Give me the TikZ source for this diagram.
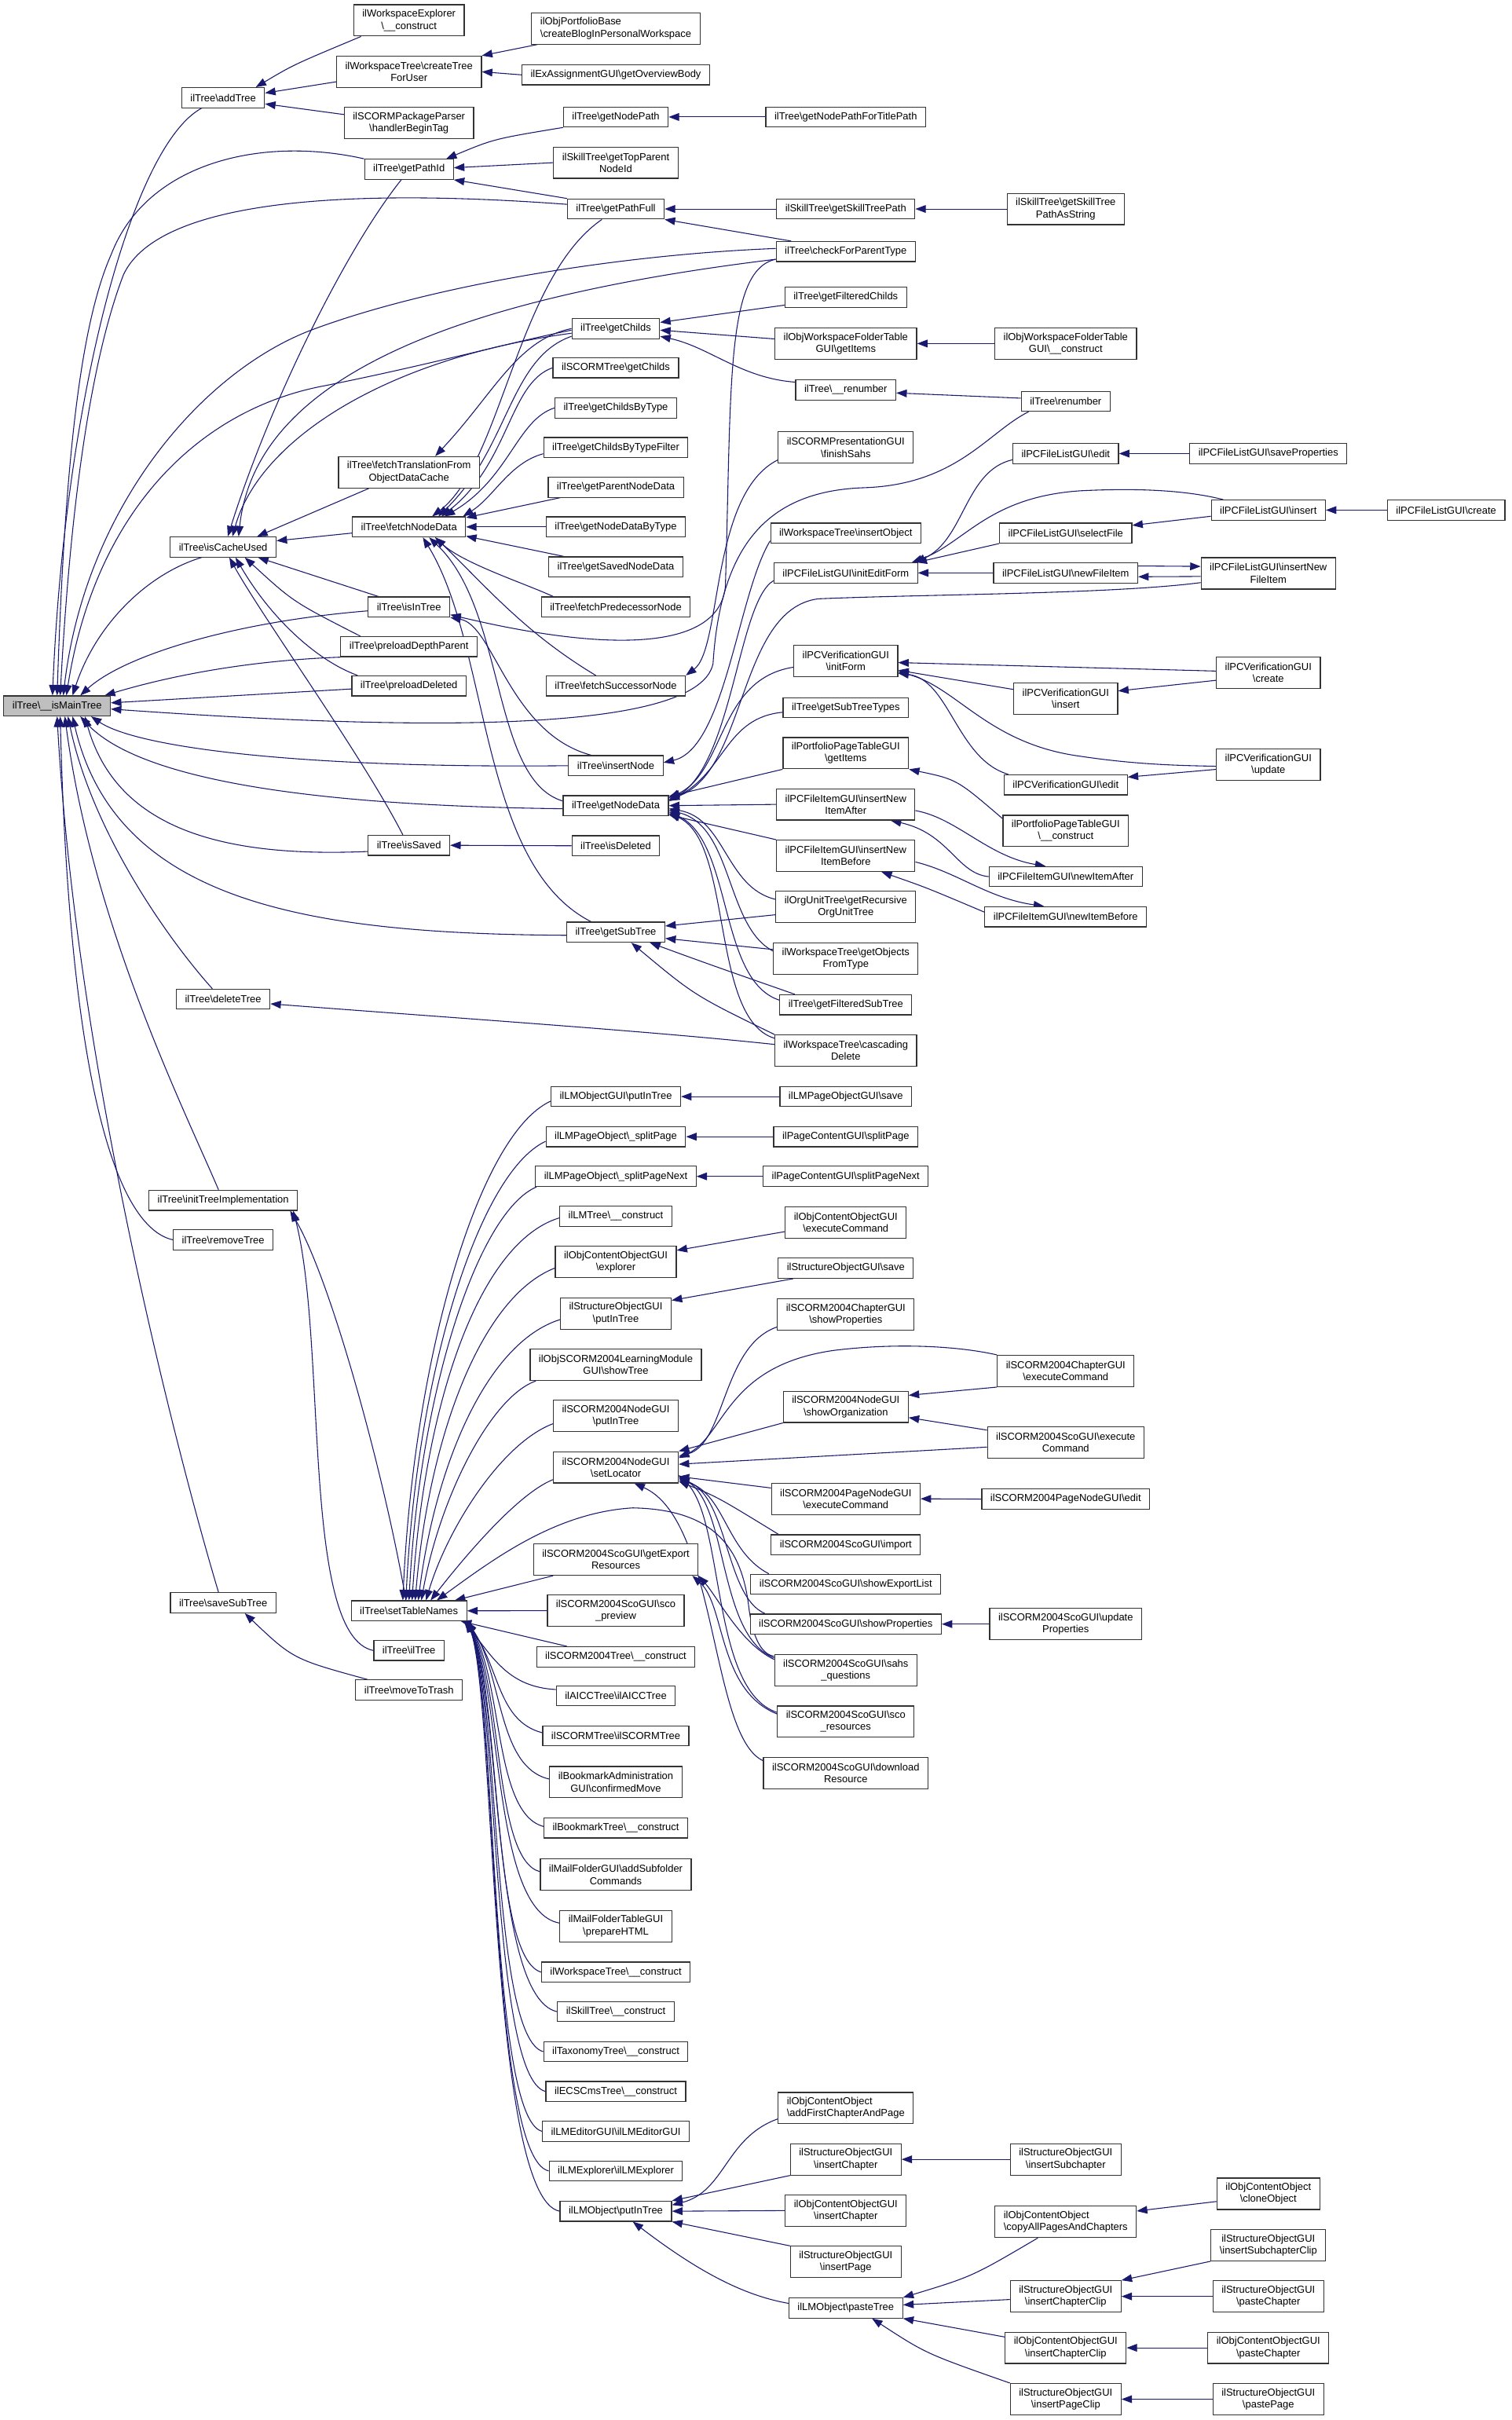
\documentclass[tikz,border=0pt]{standalone}
\usepackage{fontspec}
\setmainfont{Liberation Sans}
\usetikzlibrary{arrows.meta}
\pgfdeclarelayer{paper}
\pgfdeclarelayer{wires}
\pgfsetlayers{paper,wires,main}
\definecolor{dblue}{HTML}{191970}
\newcommand{\bsl}{\textbackslash}
\newcommand{\fnfont}{\fontsize{6.6}{7.8}\selectfont}
\begin{document}
\begin{tikzpicture}[
  x=1pt, y=-1pt,
  fn/.style={draw=black!80, line width=0.6pt, fill=white, font=\fnfont, align=center, inner xsep=5.6pt, inner ysep=2pt, minimum height=13pt},
  fn2/.style={fn, minimum height=20.3pt},
  fnl/.style={fn2, align=left},
  hit/.style={fn, fill=black!25},
  call/.style={draw=dblue, line width=0.55pt, arrows={Triangle[length=6.8pt,width=5pt]-}}
]
\begin{pgfonlayer}{paper}
\path[use as bounding box, fill=white] (0,0) rectangle (979.2,1568);
\end{pgfonlayer}

% the function itself
\node[hit] (main) at (37,457.4) {ilTree\bsl\_\_isMainTree};

% direct callers
\node[fn] (addTree) at (144.6,63.3) {ilTree\bsl addTree};
\node[fn] (isCacheUsed) at (144.6,354.4) {ilTree\bsl isCacheUsed};
\node[fn] (deleteTree) at (144.6,647.4) {ilTree\bsl deleteTree};
\node[fn] (initTreeImpl) at (144.6,777.7) {ilTree\bsl initTreeImplementation};
\node[fn] (removeTree) at (144.6,803.3) {ilTree\bsl removeTree};
\node[fn] (saveSubTree) at (144.6,1038.5) {ilTree\bsl saveSubTree};

\node[fn2] (wsExplCtor) at (265,13.2) {ilWorkspaceExplorer\\\bsl\_\_construct};
\node[fn2] (createTreeForUser) at (265,46.5) {ilWorkspaceTree\bsl createTree\\ForUser};
\node[fn2] (handlerBeginTag) at (265,79.7) {ilSCORMPackageParser\\\bsl handlerBeginTag};
\node[fn] (getPathId) at (265,109.7) {ilTree\bsl getPathId};
\node[fn2] (fetchTransl) at (265,306) {ilTree\bsl fetchTranslationFrom\\ObjectDataCache};
\node[fn] (fetchNodeData) at (265,341.4) {ilTree\bsl fetchNodeData};
\node[fn] (isInTree) at (265,393.3) {ilTree\bsl isInTree};
\node[fn] (preloadDepthParent) at (265,419) {ilTree\bsl preloadDepthParent};
\node[fn] (preloadDeleted) at (265,444.4) {ilTree\bsl preloadDeleted};
\node[fn] (isSaved) at (265,547.7) {ilTree\bsl isSaved};
\node[fn] (setTableNames) at (265,1043.7) {ilTree\bsl setTableNames};
\node[fn] (ilTreeCtor) at (265,1069.4) {ilTree\bsl ilTree};
\node[fn] (moveToTrash) at (265,1095) {ilTree\bsl moveToTrash};

\node[fnl] (createBlog) at (399,18.4) {ilObjPortfolioBase\\\bsl createBlogInPersonalWorkspace};
\node[fn] (getOverviewBody) at (399,48.5) {ilExAssignmentGUI\bsl getOverviewBody};
\node[fn] (getNodePath) at (399,75.8) {ilTree\bsl getNodePath};
\node[fn2] (getTopParent) at (399,105.4) {ilSkillTree\bsl getTopParent\\NodeId};
\node[fn] (getPathFull) at (399,135.4) {ilTree\bsl getPathFull};
\node[fn] (getChilds) at (399,212.9) {ilTree\bsl getChilds};
\node[fn] (scormGetChilds) at (399,238.3) {ilSCORMTree\bsl getChilds};
\node[fn] (getChildsByType) at (399,264.3) {ilTree\bsl getChildsByType};
\node[fn] (getChildsByTypeFilter) at (399,290) {ilTree\bsl getChildsByTypeFilter};
\node[fn] (getParentNodeData) at (399,315.7) {ilTree\bsl getParentNodeData};
\node[fn] (getNodeDataByType) at (399,341.4) {ilTree\bsl getNodeDataByType};
\node[fn] (getSavedNodeData) at (399,367.3) {ilTree\bsl getSavedNodeData};
\node[fn] (fetchPredecessor) at (399,393.3) {ilTree\bsl fetchPredecessorNode};
\node[fn] (fetchSuccessor) at (399,444.4) {ilTree\bsl fetchSuccessorNode};
\node[fn] (insertNode) at (399,496.1) {ilTree\bsl insertNode};
\node[fn] (getNodeData) at (399,522) {ilTree\bsl getNodeData};
\node[fn] (isDeleted) at (399,548) {ilTree\bsl isDeleted};
\node[fn] (getSubTree) at (399,604) {ilTree\bsl getSubTree};
\node[fn] (lmogPutInTree) at (399,710.5) {ilLMObjectGUI\bsl putInTree};
\node[fn] (splitPage) at (399,736.5) {ilLMPageObject\bsl\_splitPage};
\node[fn] (splitPageNext) at (399,762.2) {ilLMPageObject\bsl\_splitPageNext};
\node[fn] (lmTreeCtor) at (399,788.1) {ilLMTree\bsl\_\_construct};
\node[fn2] (cogExplorer) at (399,817.6) {ilObjContentObjectGUI\\\bsl explorer};
\node[fn2] (sogPutInTree) at (399,851) {ilStructureObjectGUI\\\bsl putInTree};
\node[fn2] (showTree) at (399,884.3) {ilObjSCORM2004LearningModule\\GUI\bsl showTree};
\node[fn2] (nodePutInTree) at (399,917.5) {ilSCORM2004NodeGUI\\\bsl putInTree};
\node[fn2] (setLocator) at (399,950.7) {ilSCORM2004NodeGUI\\\bsl setLocator};
\node[fn2] (getExportRes) at (399,1010.5) {ilSCORM2004ScoGUI\bsl getExport\\Resources};
\node[fn2] (scoPreview) at (399,1043.6) {ilSCORM2004ScoGUI\bsl sco\\\_preview};
\node[fn] (s2004TreeCtor) at (399,1073.5) {ilSCORM2004Tree\bsl\_\_construct};
\node[fn] (aiccTree) at (399,1098.7) {ilAICCTree\bsl ilAICCTree};
\node[fn] (scormTree) at (399,1124.7) {ilSCORMTree\bsl ilSCORMTree};
\node[fn2] (confirmedMove) at (399,1154.7) {ilBookmarkAdministration\\GUI\bsl confirmedMove};
\node[fn] (bookmarkTreeCtor) at (399,1184.4) {ilBookmarkTree\bsl\_\_construct};
\node[fn2] (addSubfolderCmds) at (399,1214.7) {ilMailFolderGUI\bsl addSubfolder\\Commands};
\node[fn2] (prepareHTML) at (399,1248) {ilMailFolderTableGUI\\\bsl prepareHTML};
\node[fn] (wsTreeCtor) at (399,1277.8) {ilWorkspaceTree\bsl\_\_construct};
\node[fn] (skillTreeCtor) at (399,1303.4) {ilSkillTree\bsl\_\_construct};
\node[fn] (taxTreeCtor) at (399,1329.3) {ilTaxonomyTree\bsl\_\_construct};
\node[fn] (ecsTreeCtor) at (399,1355.1) {ilECSCmsTree\bsl\_\_construct};
\node[fn] (lmEditor) at (399,1380.9) {ilLMEditorGUI\bsl ilLMEditorGUI};
\node[fn] (lmExplorer) at (399,1406.6) {ilLMExplorer\bsl ilLMExplorer};
\node[fn] (lmoPutInTree) at (399,1432.7) {ilLMObject\bsl putInTree};

\node[fn] (getNodePathTitle) at (548,75.8) {ilTree\bsl getNodePathForTitlePath};
\node[fn] (getSkillTreePath) at (548,135.4) {ilSkillTree\bsl getSkillTreePath};
\node[fn] (checkParentType) at (548,163) {ilTree\bsl checkForParentType};
\node[fn] (getFilteredChilds) at (548,192.7) {ilTree\bsl getFilteredChilds};
\node[fn2] (wsftGetItems) at (548,222.6) {ilObjWorkspaceFolderTable\\GUI\bsl getItems};
\node[fn] (renumberInt) at (548,252.6) {ilTree\bsl\_\_renumber};
\node[fn2] (finishSahs) at (548,290) {ilSCORMPresentationGUI\\\bsl finishSahs};
\node[fn] (insertObject) at (548,345.4) {ilWorkspaceTree\bsl insertObject};
\node[fn] (initEditForm) at (548,371.2) {ilPCFileListGUI\bsl initEditForm};
\node[fn2] (vInitForm) at (548,428.3) {ilPCVerificationGUI\\\bsl initForm};
\node[fn] (getSubTreeTypes) at (548,458.5) {ilTree\bsl getSubTreeTypes};
\node[fn2] (ppGetItems) at (548,488) {ilPortfolioPageTableGUI\\\bsl getItems};
\node[fn2] (insNewItemAfter) at (548,521.2) {ilPCFileItemGUI\bsl insertNew\\ItemAfter};
\node[fn2] (insNewItemBefore) at (548,554.5) {ilPCFileItemGUI\bsl insertNew\\ItemBefore};
\node[fn2] (orgUnitTree) at (548,587.7) {ilOrgUnitTree\bsl getRecursive\\OrgUnitTree};
\node[fn2] (getObjectsFromType) at (548,621.2) {ilWorkspaceTree\bsl getObjects\\FromType};
\node[fn] (getFilteredSubTree) at (548,651) {ilTree\bsl getFilteredSubTree};
\node[fn2] (cascadingDelete) at (548,680.7) {ilWorkspaceTree\bsl cascading\\Delete};
\node[fn] (lmpogSave) at (548,710.5) {ilLMPageObjectGUI\bsl save};
\node[fn] (pcgSplitPage) at (548,736.5) {ilPageContentGUI\bsl splitPage};
\node[fn] (pcgSplitPageNext) at (548,762.2) {ilPageContentGUI\bsl splitPageNext};
\node[fn2] (cogExecCmd) at (548,792) {ilObjContentObjectGUI\\\bsl executeCommand};
\node[fn] (sogSave) at (548,821.7) {ilStructureObjectGUI\bsl save};
\node[fn2] (chapShowProps) at (548,851.8) {ilSCORM2004ChapterGUI\\\bsl showProperties};
\node[fn2] (showOrganization) at (548,911.5) {ilSCORM2004NodeGUI\\\bsl showOrganization};
\node[fn2] (pageExecCmd) at (548,971.1) {ilSCORM2004PageNodeGUI\\\bsl executeCommand};
\node[fn] (scoImport) at (548,1000.9) {ilSCORM2004ScoGUI\bsl import};
\node[fn] (showExportList) at (548,1026.5) {ilSCORM2004ScoGUI\bsl showExportList};
\node[fn] (scoShowProps) at (548,1052.3) {ilSCORM2004ScoGUI\bsl showProperties};
\node[fn2] (sahsQuestions) at (548,1082.2) {ilSCORM2004ScoGUI\bsl sahs\\\_questions};
\node[fn2] (scoResources) at (548,1115.5) {ilSCORM2004ScoGUI\bsl sco\\\_resources};
\node[fn2] (downloadRes) at (548,1148.8) {ilSCORM2004ScoGUI\bsl download\\Resource};
\node[fnl] (addFirstChapter) at (548,1365.9) {ilObjContentObject\\\bsl addFirstChapterAndPage};
\node[fn2] (sogInsChapter) at (548,1399.1) {ilStructureObjectGUI\\\bsl insertChapter};
\node[fn2] (cogInsChapter) at (548,1432.3) {ilObjContentObjectGUI\\\bsl insertChapter};
\node[fn2] (sogInsPage) at (548,1465.6) {ilStructureObjectGUI\\\bsl insertPage};
\node[fn] (pasteTree) at (548,1495.4) {ilLMObject\bsl pasteTree};

\node[fn2] (skillTreePathStr) at (690.5,135.4) {ilSkillTree\bsl getSkillTree\\PathAsString};
\node[fn2] (wsftCtor) at (690.5,222.6) {ilObjWorkspaceFolderTable\\GUI\bsl\_\_construct};
\node[fn] (renumber) at (690.5,260) {ilTree\bsl renumber};
\node[fn] (flEdit) at (690.5,293.9) {ilPCFileListGUI\bsl edit};
\node[fn] (selectFile) at (690.5,345.4) {ilPCFileListGUI\bsl selectFile};
\node[fn] (newFileItem) at (690.5,371.2) {ilPCFileListGUI\bsl newFileItem};
\node[fn2] (vInsert) at (690.5,452.7) {ilPCVerificationGUI\\\bsl insert};
\node[fn] (vEdit) at (690.5,508.5) {ilPCVerificationGUI\bsl edit};
\node[fn2] (ppCtor) at (690.5,538.4) {ilPortfolioPageTableGUI\\\bsl\_\_construct};
\node[fn] (newItemAfter) at (690.5,568) {ilPCFileItemGUI\bsl newItemAfter};
\node[fn] (newItemBefore) at (690.5,594) {ilPCFileItemGUI\bsl newItemBefore};
\node[fn2] (chapExecCmd) at (690.5,888.3) {ilSCORM2004ChapterGUI\\\bsl executeCommand};
\node[fn2] (scoExecCmd) at (690.5,934.6) {ilSCORM2004ScoGUI\bsl execute\\Command};
\node[fn] (pageEdit) at (690.5,971.3) {ilSCORM2004PageNodeGUI\bsl edit};
\node[fn2] (updateProps) at (690.5,1052.3) {ilSCORM2004ScoGUI\bsl update\\Properties};
\node[fn2] (insSubchapter) at (690.5,1399.1) {ilStructureObjectGUI\\\bsl insertSubchapter};
\node[fnl] (copyAll) at (690.5,1439.6) {ilObjContentObject\\\bsl copyAllPagesAndChapters};
\node[fn2] (sogInsChapterClip) at (690.5,1487.9) {ilStructureObjectGUI\\\bsl insertChapterClip};
\node[fn2] (cogInsChapterClip) at (690.5,1521.2) {ilObjContentObjectGUI\\\bsl insertChapterClip};
\node[fn2] (insPageClip) at (690.5,1554.5) {ilStructureObjectGUI\\\bsl insertPageClip};

\node[fn] (saveProps) at (821.8,293.9) {ilPCFileListGUI\bsl saveProperties};
\node[fn] (flInsert) at (821.8,330.5) {ilPCFileListGUI\bsl insert};
\node[fn2] (insNewFileItem) at (821.8,371.5) {ilPCFileListGUI\bsl insertNew\\FileItem};
\node[fn2] (vCreate) at (821.8,435.8) {ilPCVerificationGUI\\\bsl create};
\node[fn2] (vUpdate) at (821.8,495.5) {ilPCVerificationGUI\\\bsl update};
\node[fn2] (cloneObject) at (821.8,1421.4) {ilObjContentObject\\\bsl cloneObject};
\node[fn2] (insSubchapterClip) at (821.8,1454.7) {ilStructureObjectGUI\\\bsl insertSubchapterClip};
\node[fn2] (sogPasteChapter) at (821.8,1487.9) {ilStructureObjectGUI\\\bsl pasteChapter};
\node[fn2] (cogPasteChapter) at (821.8,1521.2) {ilObjContentObjectGUI\\\bsl pasteChapter};
\node[fn2] (pastePage) at (821.8,1554.5) {ilStructureObjectGUI\\\bsl pastePage};

\node[fn] (flCreate) at (937,330.5) {ilPCFileListGUI\bsl create};

\begin{pgfonlayer}{wires}
% calls into the main node
\draw[call] ([xshift=-3pt]main.north) .. controls (42,260) and (85,95) .. ([xshift=-14pt]addTree.south);
\draw[call] (main.north) .. controls (42,300) and (52,210) .. (72,165) .. controls (95,105) and (170,88) .. (getPathId.north west);
\draw[call] ([xshift=2pt]main.north) .. controls (46,320) and (60,230) .. (80,178) .. controls (100,135) and (200,120) .. ([yshift=3pt]getPathFull.west);
\draw[call] ([xshift=4pt]main.north) .. controls (55,330) and (130,240) .. (204,213) .. controls (280,185) and (400,165) .. ([yshift=2pt]checkParentType.west);
\draw[call] ([xshift=6pt]main.north) .. controls (62,330) and (130,265) .. (210,250) .. controls (280,236) and (330,222) .. ([yshift=-1pt]getChilds.west);
\draw[call] ([xshift=10pt]main.north) .. controls (62,405) and (95,372) .. ([xshift=-14pt]isCacheUsed.south);
\draw[call] ([xshift=15pt]main.north) .. controls (80,425) and (150,403) .. ([yshift=-2.5pt]isInTree.west);
\draw[call] ([xshift=-4pt]main.north east) .. controls (110,438) and (160,428) .. (preloadDepthParent.south west);
\draw[call] ([yshift=2pt]main.east) -- ([yshift=-2pt]preloadDeleted.west);
\draw[call] ([yshift=-2pt]main.east) .. controls (250,472) and (452,478) .. (462,430) .. controls (467,350) and (500,318) .. (560,316) .. controls (620,314) and (640,280) .. ([xshift=5pt]renumber.south west);
\draw[call] ([xshift=18pt]main.south) .. controls (75,535) and (140,556) .. ([yshift=-4pt]isSaved.west);
\draw[call] ([xshift=22pt]main.south) .. controls (90,485) and (200,498) .. (insertNode.west);
\draw[call] ([xshift=15pt]main.south) .. controls (90,505) and (200,522) .. ([yshift=-2pt]getNodeData.west);
\draw[call] ([xshift=10pt]main.south) .. controls (75,585) and (200,605) .. ([yshift=-2pt]getSubTree.west);
\draw[call] ([xshift=7pt]main.south) .. controls (60,540) and (110,610) .. ([xshift=-7pt]deleteTree.north);
\draw[call] ([xshift=5pt]main.south) .. controls (60,600) and (120,720) .. ([xshift=-3pt]initTreeImpl.north);
\draw[call] ([xshift=2pt]main.south) .. controls (45,700) and (75,795) .. (removeTree.west);
\draw[call] (main.south) .. controls (50,700) and (120,960) .. ([xshift=-3pt]saveSubTree.north);

% second rank
\draw[call] ([xshift=-6pt]addTree.north east) .. controls (190,42) .. ([xshift=5pt]wsExplCtor.south west);
\draw[call] ([yshift=3pt]addTree.east) -- ([yshift=-6.5pt]createTreeForUser.west);
\draw[call] ([yshift=-4pt]addTree.east) -- ([yshift=5.5pt]handlerBeginTag.west);
\draw[call] (createTreeForUser.north east) -- ([xshift=4pt]createBlog.south west);
\draw[call] (createTreeForUser.east) -- (getOverviewBody.west);
\draw[call] ([xshift=3pt]isCacheUsed.north) .. controls (175,260) and (225,160) .. ([xshift=-5pt]getPathId.south);
\draw[call] ([xshift=10pt]isCacheUsed.north) .. controls (165,250) and (280,195) .. ([yshift=-5pt]checkParentType.west);
\draw[call] ([xshift=6pt]isCacheUsed.north) .. controls (168,285) and (250,232) .. ([yshift=-3pt]getChilds.west);
\draw[call] ([xshift=22pt]isCacheUsed.north) -- ([xshift=20pt]fetchTransl.south west);
\draw[call] ([yshift=4pt]isCacheUsed.east) -- ([yshift=-4pt]fetchNodeData.west);
\draw[call] ([xshift=-12pt]isCacheUsed.south east) -- ([xshift=7pt]isInTree.north west);
\draw[call] ([xshift=14pt]isCacheUsed.south) .. controls (190,390) .. ([xshift=13pt]preloadDepthParent.north west);
\draw[call] ([xshift=8pt]isCacheUsed.south) .. controls (175,400) and (205,428) .. ([xshift=4pt]preloadDeleted.north west);
\draw[call] ([xshift=4pt]isCacheUsed.south) .. controls (170,400) and (235,490) .. ([xshift=-4pt]isSaved.north);
\draw[call] ([xshift=-5pt]initTreeImpl.south east) .. controls (215,830) and (250,960) .. ([xshift=-2pt]setTableNames.north);
\draw[call] ([xshift=-3pt]initTreeImpl.south east) .. controls (212,870) and (195,1060) .. (ilTreeCtor.west);
\draw[call] ([xshift=14pt]saveSubTree.south) .. controls (190,1075) .. ([xshift=8pt]moveToTrash.north west);
\draw[call] (isSaved.east) -- (isDeleted.west);

% third rank
\draw[call] ([xshift=-5pt]getPathId.north east) .. controls (320,90) .. (getNodePath.south west);
\draw[call] ([yshift=1pt]getPathId.east) -- (getTopParent.west);
\draw[call] (getPathId.south east) -- (getPathFull.north west);
\draw[call] ([xshift=15pt]fetchNodeData.north) .. controls (325,300) and (335,180) .. ([xshift=-9pt]getPathFull.south);
\draw[call] ([xshift=17pt]fetchTransl.north) .. controls (320,255) and (335,220) .. (getChilds.west);
\draw[call] ([xshift=19pt]fetchNodeData.north) .. controls (330,290) and (330,232) .. ([yshift=-5pt]getChilds.west);
\draw[call] ([xshift=21pt]fetchNodeData.north) .. controls (330,300) and (330,248) .. (scormGetChilds.west);
\draw[call] ([xshift=23pt]fetchNodeData.north) .. controls (330,310) and (335,272) .. (getChildsByType.west);
\draw[call] ([xshift=-2pt]fetchNodeData.north east) .. controls (320,322) and (330,300) .. ([yshift=-4pt]getChildsByTypeFilter.west);
\draw[call] ([yshift=6pt]fetchNodeData.east) -- ([xshift=8pt]getParentNodeData.south west);
\draw[call] (fetchNodeData.east) -- (getNodeDataByType.west);
\draw[call] ([yshift=-6pt]fetchNodeData.east) -- ([xshift=10pt]getSavedNodeData.north west);
\draw[call] ([xshift=-20pt]fetchNodeData.south east) .. controls (300,365) and (340,378) .. ([xshift=8pt]fetchPredecessor.north west);
\draw[call] ([xshift=17pt]fetchNodeData.south) .. controls (315,380) and (340,410) .. ([xshift=-13pt]fetchSuccessor.north);
\draw[call] ([xshift=13pt]fetchNodeData.south) .. controls (328,395) and (318,505) .. ([yshift=3pt]getNodeData.west);
\draw[call] ([xshift=9pt]fetchNodeData.south) .. controls (318,420) and (310,560) .. ([xshift=-16pt]getSubTree.north);
\draw[call] (isInTree.south east) .. controls (320,405) and (330,475) .. ([xshift=-16pt]insertNode.north);
\draw[call] ([yshift=-5pt]isInTree.east) .. controls (400,424) and (466,420) .. (470,380) .. controls (474,250) and (470,175) .. ([yshift=-5pt]checkParentType.west);

% fourth rank and beyond, upper half
\draw[call] (getNodePath.east) -- (getNodePathTitle.west);
\draw[call] (getPathFull.east) -- (getSkillTreePath.west);
\draw[call] (getPathFull.south east) -- ([xshift=10pt]checkParentType.north west);
\draw[call] (getSkillTreePath.east) -- (skillTreePathStr.west);
\draw[call] ([yshift=4pt]getChilds.east) -- ([yshift=-5pt]getFilteredChilds.west);
\draw[call] ([yshift=-1pt]getChilds.east) -- ([yshift=3pt]wsftGetItems.west);
\draw[call] ([yshift=-5pt]getChilds.east) .. controls (460,225) and (480,245) .. ([yshift=5pt]renumberInt.west);
\draw[call] (wsftGetItems.east) -- (wsftCtor.west);
\draw[call] ([yshift=-2pt]renumberInt.east) -- ([yshift=2pt]renumber.west);
\draw[call] (fetchSuccessor.north east) .. controls (468,420) and (460,320) .. ([yshift=-8pt]finishSahs.west);
\draw[call] ([yshift=2pt]insertNode.east) .. controls (470,485) and (478,385) .. ([yshift=-5pt]insertObject.west);
\draw[call] ([yshift=3pt]getNodeData.east) .. controls (475,495) and (478,390) .. ([yshift=-5pt]initEditForm.west);
\draw[call] ([yshift=4pt]getNodeData.east) .. controls (484,500) and (478,395) .. (530,388) .. controls (600,385) and (720,385) .. ([yshift=-6pt]insNewFileItem.west);
\draw[call] ([yshift=5pt]getNodeData.east) .. controls (470,500) and (465,440) .. ([yshift=-4pt]vInitForm.west);
\draw[call] ([yshift=3pt]getNodeData.east) .. controls (470,500) and (470,465) .. ([yshift=-3pt]getSubTreeTypes.west);
\draw[call] ([yshift=6pt]getNodeData.east) -- (ppGetItems.south west);
\draw[call] (getNodeData.east) -- (insNewItemAfter.west);
\draw[call] ([yshift=-6pt]getNodeData.east) -- (insNewItemBefore.north west);
\draw[call] ([yshift=-2pt]getNodeData.east) .. controls (470,530) and (470,575) .. ([yshift=5pt]orgUnitTree.west);
\draw[call] ([yshift=-3pt]getNodeData.east) .. controls (475,535) and (470,600) .. ([yshift=5pt]getObjectsFromType.west);
\draw[call] ([yshift=-4pt]getNodeData.east) .. controls (475,545) and (465,635) .. ([yshift=3pt]getFilteredSubTree.west);
\draw[call] ([yshift=-5pt]getNodeData.east) .. controls (475,545) and (460,660) .. ([yshift=8pt]cascadingDelete.west);
\draw[call] ([yshift=4pt]getSubTree.east) -- ([yshift=-5pt]orgUnitTree.west);
\draw[call] ([yshift=-4pt]getSubTree.east) -- ([yshift=6pt]getObjectsFromType.west);
\draw[call] ([xshift=-10pt]getSubTree.south east) .. controls (460,625) .. ([xshift=10pt]getFilteredSubTree.north west);
\draw[call] ([xshift=10pt]getSubTree.south) .. controls (450,645) .. (cascadingDelete.north west);
\draw[call] ([yshift=-3pt]deleteTree.east) .. controls (300,660) and (420,668) .. ([yshift=4pt]cascadingDelete.west);

\draw[call] ([xshift=-2pt]initEditForm.north east) .. controls (625,350) and (625,305) .. ([yshift=-4pt]flEdit.west);
\draw[call] (flEdit.east) -- (saveProps.west);
\draw[call] ([xshift=-4pt]initEditForm.north east) .. controls (625,352) and (640,322) .. (700,318) .. controls (740,316) and (770,318) .. ([xshift=8pt]flInsert.north west);
\draw[call] ([yshift=5pt]selectFile.east) -- ([yshift=-4pt]flInsert.west);
\draw[call] (flInsert.east) -- (flCreate.west);
\draw[call] ([xshift=-1pt]initEditForm.north east) -- (selectFile.south west);
\draw[call] (initEditForm.east) -- (newFileItem.west);
\draw[call] ([yshift=4.5pt]insNewFileItem.west) -- ([yshift=4.5pt]newFileItem.east);
\draw[call] ([yshift=-2.5pt]newFileItem.east) -- ([yshift=-2pt]insNewFileItem.west);

\draw[call] ([yshift=-1pt]vInitForm.east) -- ([yshift=1pt]vCreate.west);
\draw[call] ([yshift=5pt]vInsert.east) -- ([yshift=-5pt]vCreate.west);
\draw[call] ([yshift=-6pt]vInitForm.east) -- ([yshift=6pt]vInsert.west);
\draw[call] ([yshift=-7pt]vInitForm.east) .. controls (620,445) and (640,482) .. (700,490) .. controls (740,496) and (770,496) .. ([yshift=-1pt]vUpdate.west);
\draw[call] ([yshift=5pt]vEdit.east) -- ([yshift=-3pt]vUpdate.west);
\draw[call] ([yshift=-8pt]vInitForm.east) .. controls (615,440) and (620,492) .. ([xshift=3pt]vEdit.north west);
\draw[call] (ppGetItems.south east) .. controls (620,505) .. ([yshift=8pt]ppCtor.west);
\draw[call] ([xshift=-13pt]newItemAfter.north) .. controls (640,555) and (620,530) .. ([yshift=-4pt]insNewItemAfter.east);
\draw[call] ([xshift=-16pt]insNewItemAfter.south east) .. controls (615,540) and (620,566) .. (newItemAfter.west);
\draw[call] ([xshift=-14pt]newItemBefore.north) .. controls (640,582) and (620,565) .. ([yshift=-4pt]insNewItemBefore.east);
\draw[call] ([xshift=-22pt]insNewItemBefore.south east) .. controls (600,575) .. ([yshift=3pt]newItemBefore.west);

% callers of setTableNames
\draw[call] ([xshift=-4pt]setTableNames.north) .. controls (268,880) and (310,735) .. ([yshift=-3pt]lmogPutInTree.west);
\draw[call] ([xshift=-2pt]setTableNames.north) .. controls (270,890) and (310,760) .. ([yshift=-3pt]splitPage.west);
\draw[call] (setTableNames.north) .. controls (272,900) and (310,785) .. ([xshift=1pt]splitPageNext.south west);
\draw[call] ([xshift=2pt]setTableNames.north) .. controls (275,910) and (310,805) .. ([yshift=-1pt]lmTreeCtor.west);
\draw[call] ([xshift=4pt]setTableNames.north) .. controls (278,930) and (312,840) .. ([yshift=-4pt]cogExplorer.west);
\draw[call] ([xshift=6pt]setTableNames.north) .. controls (282,950) and (315,870) .. ([yshift=-4pt]sogPutInTree.west);
\draw[call] ([xshift=8pt]setTableNames.north) .. controls (285,970) and (318,905) .. ([xshift=4pt]showTree.south west);
\draw[call] ([xshift=11pt]setTableNames.north) .. controls (290,990) and (325,935) .. ([yshift=-5pt]nodePutInTree.west);
\draw[call] ([xshift=14pt]setTableNames.north) .. controls (300,1010) and (335,968) .. ([yshift=-8pt]setLocator.west);
\draw[call] ([xshift=-8pt]setTableNames.north east) -- ([xshift=13pt]getExportRes.south west);
\draw[call] (setTableNames.east) -- (scoPreview.west);
\draw[call] ([xshift=18pt]setTableNames.north) .. controls (320,1010) and (360,980) .. (410,977) .. controls (460,978) and (480,1000) .. (485,1040) .. controls (488,1065) and (495,1072) .. ([yshift=9pt]sahsQuestions.west);
\draw[call] ([xshift=-4pt]setTableNames.south east) -- ([xshift=20pt]s2004TreeCtor.north west);
\draw[call] ([xshift=-2pt]setTableNames.south east) .. controls (320,1075) and (330,1093) .. ([yshift=4pt]aiccTree.west);
\draw[call] ([xshift=-1pt]setTableNames.south east) .. controls (324,1080) and (322,1115) .. ([yshift=2pt]scormTree.west);
\draw[call] (setTableNames.south east) .. controls (326,1085) and (322,1145) .. ([yshift=2pt]confirmedMove.west);
\draw[call] (setTableNames.south east) .. controls (326,1090) and (320,1175) .. ([yshift=1pt]bookmarkTreeCtor.west);
\draw[call] (setTableNames.south east) .. controls (326,1095) and (320,1205) .. ([yshift=2pt]addSubfolderCmds.west);
\draw[call] (setTableNames.south east) .. controls (326,1100) and (319,1238) .. ([yshift=2pt]prepareHTML.west);
\draw[call] (setTableNames.south east) .. controls (325,1100) and (318,1268) .. (wsTreeCtor.west);
\draw[call] (setTableNames.south east) .. controls (325,1100) and (318,1294) .. (skillTreeCtor.west);
\draw[call] (setTableNames.south east) .. controls (324,1100) and (318,1320) .. (taxTreeCtor.west);
\draw[call] (setTableNames.south east) .. controls (323,1100) and (318,1346) .. (ecsTreeCtor.west);
\draw[call] (setTableNames.south east) .. controls (322,1100) and (317,1372) .. (lmEditor.west);
\draw[call] (setTableNames.south east) .. controls (322,1100) and (317,1398) .. (lmExplorer.west);
\draw[call] (setTableNames.south east) .. controls (321,1100) and (317,1424) .. (lmoPutInTree.west);

% lower half
\draw[call] (lmogPutInTree.east) -- (lmpogSave.west);
\draw[call] (splitPage.east) -- (pcgSplitPage.west);
\draw[call] (splitPageNext.east) -- (pcgSplitPageNext.west);
\draw[call] ([yshift=-3pt]cogExplorer.north east) -- ([yshift=-6pt]cogExecCmd.west);
\draw[call] ([yshift=-2pt]sogPutInTree.north east) -- ([xshift=10pt]sogSave.south west);
\draw[call] ([yshift=7pt]setLocator.east) .. controls (470,935) and (468,872) .. ([yshift=-8pt]chapShowProps.west);
\draw[call] ([yshift=6pt]setLocator.east) .. controls (470,930) and (470,885) .. (540,875) .. controls (580,870) and (620,872) .. (chapExecCmd.north west);
\draw[call] ([yshift=-3pt]showOrganization.north east) -- (chapExecCmd.south west);
\draw[call] (setLocator.north east) -- (showOrganization.south west);
\draw[call] ([yshift=-7pt]showOrganization.east) -- ([yshift=8pt]scoExecCmd.west);
\draw[call] ([yshift=2pt]setLocator.east) -- ([yshift=-3pt]scoExecCmd.west);
\draw[call] ([yshift=-6pt]setLocator.east) -- ([yshift=7pt]pageExecCmd.west);
\draw[call] (pageExecCmd.east) -- (pageEdit.west);
\draw[call] ([yshift=-9pt]setLocator.east) .. controls (465,970) .. ([xshift=5pt]scoImport.north west);
\draw[call] ([yshift=-8pt]setLocator.east) .. controls (470,968) and (470,1005) .. ([xshift=12pt]showExportList.north west);
\draw[call] ([yshift=-7pt]setLocator.east) .. controls (472,970) and (470,1035) .. ([xshift=10pt]scoShowProps.north west);
\draw[call] (scoShowProps.east) -- (updateProps.west);
\draw[call] ([yshift=-6pt]setLocator.east) .. controls (472,975) and (465,1060) .. ([yshift=8pt]sahsQuestions.west);
\draw[call] (getExportRes.south east) .. controls (465,1035) and (480,1065) .. ([yshift=7pt]sahsQuestions.west);
\draw[call] ([yshift=-5pt]setLocator.east) .. controls (470,985) and (460,1095) .. ([yshift=6pt]scoResources.west);
\draw[call] ([xshift=-4pt]getExportRes.south east) .. controls (470,1040) and (465,1095) .. ([yshift=5pt]scoResources.west);
\draw[call] ([xshift=12pt]setLocator.south) .. controls (465,985) and (460,1125) .. ([yshift=8pt]downloadRes.west);

\draw[call] ([yshift=4pt]lmoPutInTree.east) .. controls (470,1420) and (470,1385) .. ([yshift=-7pt]addFirstChapter.west);
\draw[call] (lmoPutInTree.north east) -- (sogInsChapter.south west);
\draw[call] (lmoPutInTree.east) -- (cogInsChapter.west);
\draw[call] (lmoPutInTree.south east) -- (sogInsPage.north west);
\draw[call] ([xshift=11pt]lmoPutInTree.south) .. controls (450,1470) and (480,1487) .. ([yshift=3pt]pasteTree.west);
\draw[call] (sogInsChapter.east) -- (insSubchapter.west);
\draw[call] (pasteTree.north east) .. controls (630,1475) .. ([xshift=28pt]copyAll.south west);
\draw[call] ([yshift=2pt]pasteTree.east) -- ([yshift=-2pt]sogInsChapterClip.west);
\draw[call] (pasteTree.south east) -- ([yshift=7pt]cogInsChapterClip.west);
\draw[call] ([xshift=17pt]pasteTree.south) .. controls (600,1525) .. (insPageClip.north west);
\draw[call] ([yshift=7pt]copyAll.east) -- ([yshift=-5pt]cloneObject.west);
\draw[call] (sogInsChapterClip.north east) -- (insSubchapterClip.south west);
\draw[call] (sogInsChapterClip.east) -- (sogPasteChapter.west);
\draw[call] (cogInsChapterClip.east) -- (cogPasteChapter.west);
\draw[call] (insPageClip.east) -- (pastePage.west);
\end{pgfonlayer}
\end{tikzpicture}
\end{document}
